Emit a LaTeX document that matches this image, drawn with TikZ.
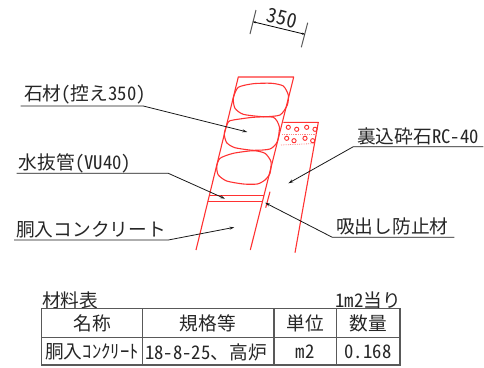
\documentclass[tikz,border=0pt]{standalone}
\usepackage{fontspec}
\setmainfont{Noto Sans CJK JP}[RawFeature=+hwid]
\usetikzlibrary{arrows.meta}
\definecolor{wallred}{RGB}{255,50,50}
\begin{document}
\begin{tikzpicture}[x=1pt,y=-1pt,
	  every node/.append style={inner sep=0pt,font=\fontsize{18.7}{18.7}\selectfont,text=black!85},
	  leader/.style={draw=black!90,line width=0.8pt,-{Stealth[length=5pt,width=3pt]}},
	  wall/.style={draw=wallred,line width=1.1pt,line join=round},
	  stone/.style={draw=wallred,line width=1.1pt,smooth cycle,tension=0.4},
	  rule/.style={draw=black!65,line width=1.2pt}]
	  \tikzstyle{word} = [anchor=west]
	  \tikzstyle{cell} = [anchor=center]
	  \useasboundingbox (0,0) rectangle (484,367);
	  % walls
	  \draw[wall] (196,250) -- (238.3,77) -- (293.7,77) -- (250.3,250);
	  \draw[wall] (283.3,122.3) -- (318.3,122.3) -- (295,252.7);
	  \draw[wall] plot[stone] coordinates {(238.3,87.3) (253.3,83.7) (271.7,83.3) (283.3,86) (288.3,95) (287.3,105) (280,115) (263.3,116.7) (243.3,114.3) (235,108.3) (233.3,98.3)};
	  \draw[wall] plot[stone] coordinates {(233.3,120) (253.3,117.3) (273.3,117.3) (279.3,126.7) (277.3,141.7) (270,149) (253.3,150.3) (235,147.7) (226.7,142.7) (224.3,133.3) (228.3,122)};
	  \draw[wall] plot[stone] coordinates {(220,158.3) (233.3,153.3) (253.3,150.7) (265,153.3) (271,161.7) (270,173.3) (265,180) (257.3,184) (243.3,184) (226.7,181) (218.3,175) (216.7,166.7)};
	  % pipe and plate
	  \draw[wall] (209.3,195.3) -- (264,195.3);
	  \draw[wall] (207.7,201.3) -- (262.7,201.3);
	  \draw[wall] (270,191.7) -- (265.7,207.7);
	  % gravel
	  \foreach \gx/\gy in {288.3/127.3,296.7/129.3,306.7/127.3,315/129.3,286.7/138.3,294/140.7,305/138.3,312.7/140.7}
	    \draw[wallred,line width=0.9pt] (\gx,\gy) circle (2.1);
	  \draw[wallred!60,densely dotted,line width=0.8pt] (282,134) -- (317,134);
	  \draw[wallred!60,densely dotted,line width=0.8pt] (281,145) -- (315,143.5);
	  % dimension
	  \coordinate (d_1) at (252.7,21.7);
	  \coordinate (d_2) at (305,34.3);
	  \coordinate (d_1a) at (256,10);
	  \coordinate (d_1b) at (250,34);
	  \coordinate (d_2a) at (307.7,22.7);
	  \coordinate (d_2b) at (301.3,47.3);
	  \draw[black!65,line width=1pt] (d_1a) -- (d_1b);
	  \draw[black!65,line width=1pt] (d_2a) -- (d_2b);
	  \draw[black,line width=0.8pt,{Stealth[length=3pt,width=2pt]}-{Stealth[length=3pt,width=2pt]}] (d_1) -- (d_2);
	  \node (d_t) [rotate=-14,font=\fontsize{20}{20}\selectfont] at (282,18.2) {350};
	  % labels
	  \node (1_t) [word] at (24,94.5) {石材(控え350)};
	  \node (2_t) [word] at (18.7,163.5) {水抜管(VU40)};
	  \node (3_t) [word] at (16,229.5) {胴入コンクリート};
	  \node (4_t) [word] at (357,136.2) {裏込砕石RC-40};
	  \node (5_t) [word] at (336,226.2) {吸出し防止材};
	  \coordinate (1_a) at (20.7,106);
	  \coordinate (1_b) at (143.3,106);
	  \coordinate (1_c) at (247.3,132);
	  \coordinate (2_a) at (16.7,173.3);
	  \coordinate (2_b) at (168.3,173.3);
	  \coordinate (2_c) at (225,198.7);
	  \coordinate (3_a) at (14,240);
	  \coordinate (3_b) at (168.3,240);
	  \coordinate (3_c) at (234.3,227.3);
	  \coordinate (4_a) at (483.3,146.7);
	  \coordinate (4_b) at (353.3,146.7);
	  \coordinate (4_c) at (288.3,183.3);
	  \coordinate (5_a) at (454.3,237.3);
	  \coordinate (5_b) at (332.3,237.3);
	  \coordinate (5_c) at (265,202.7);
	  \foreach \n in {1,2,3,4,5}
	    \draw[leader] (\n_a) -- (\n_b) -- (\n_c);
	  % table
	  \node (t_1) [word] at (42,300) {材料表};
	  \node (t_2) [anchor=east] at (401,300) {1m2当り};
	  \draw[rule] (41.7,308.3) rectangle (400,365);
	  \draw[rule] (41.7,337.3) -- (400,337.3);
	  \foreach \cx in {142.3,274,336.7}
	    \draw[rule] (\cx,308.3) -- (\cx,365);
	  \node (c_1) [cell] at (92,323) {名称};
	  \node (c_2) [cell] at (208,323) {規格等};
	  \node (c_3) [cell] at (305,323) {単位};
	  \node (c_4) [cell] at (368,323) {数量};
	  \node (c_5) [cell] at (92,352) {胴入ｺﾝｸﾘｰﾄ};
	  \node (c_6) [cell] at (206,352) {18-8-25、高炉};
	  \node (c_7) [cell] at (305,352) {m2};
	  \node (c_8) [cell] at (368,352) {0.168};
\end{tikzpicture}
\end{document}
